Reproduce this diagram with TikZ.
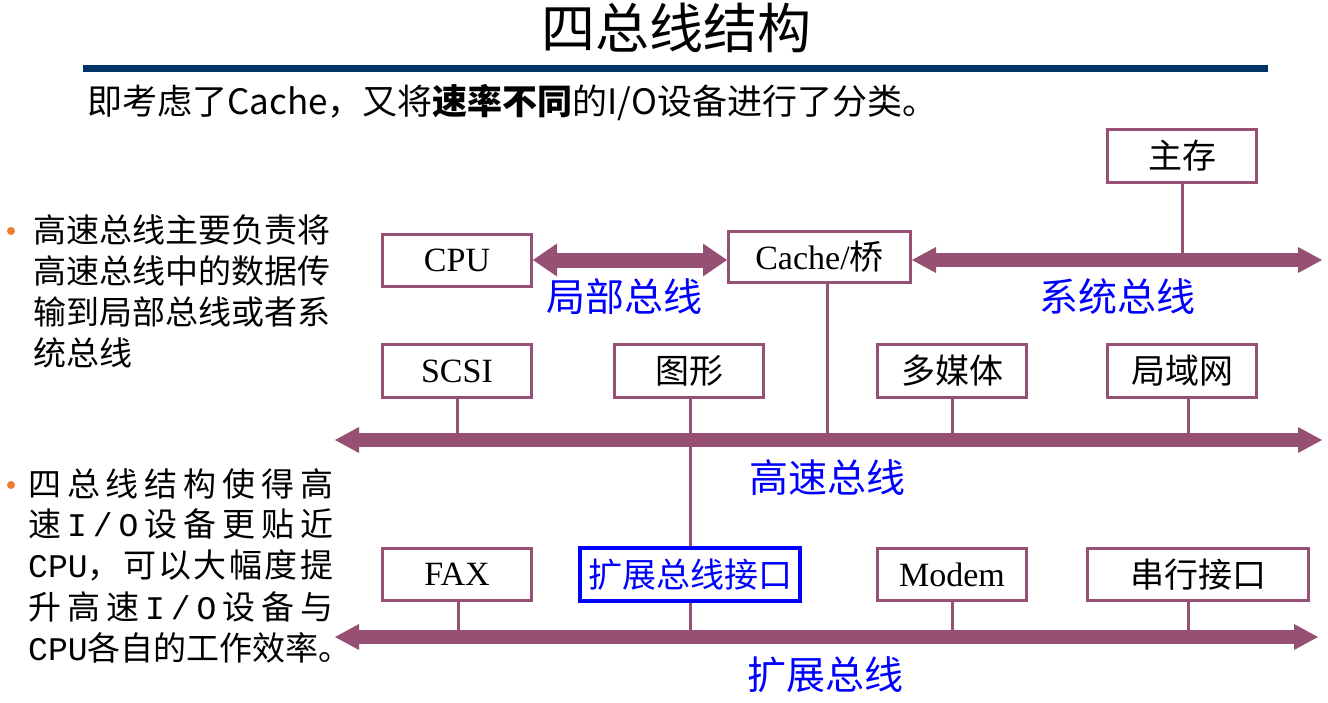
\documentclass[tikz,border=0pt]{standalone}
\usepackage{fontspec}
\setmainfont{Liberation Serif}
\newfontfamily\cjk{Noto Sans CJK SC}
\newfontfamily\mono{Liberation Mono}
\usetikzlibrary{arrows.meta}
\definecolor{busc}{RGB}{150,80,115}
\definecolor{navyc}{RGB}{0,51,102}
\definecolor{bulletc}{RGB}{237,125,49}
\newcommand{\fsz}[1]{\fontsize{#1}{#1}\selectfont}
\tikzset{
 dev/.style={draw=busc, line width=3pt, fill=white, inner sep=0pt, text=black, font=\fsz{34}, minimum width=149pt, minimum height=53pt},
 bus/.style={draw=busc, line width=14pt, {Triangle[width=26pt,length=24pt,line width=0pt]}-{Triangle[width=26pt,length=24pt,line width=0pt]}},
 lbus/.style={draw=busc, line width=15pt, {Triangle[width=33pt,length=24pt,line width=0pt]}-{Triangle[width=33pt,length=24pt,line width=0pt]}},
 tap/.style={draw=busc, line width=3pt},
 buslabel/.style={text=blue, font=\cjk\fsz{39}, inner sep=0pt},
 side/.style={anchor=west, font=\cjk\fsz{33}, inner sep=0pt},
 dot/.style={circle, fill=bulletc, minimum size=8pt, inner sep=0pt},
}
\begin{document}
\begin{tikzpicture}[x=1pt,y=-1pt]
\useasboundingbox (0,0) rectangle (1328,702);
\fill[white] (0,0) rectangle (1328,702);
% title
\node[font=\cjk\fsz{54}, inner sep=0pt] (title) at (676,28) {四总线结构};
\coordinate (ruleL) at (83,68);
\coordinate (ruleR) at (1268,68);
\draw[navyc, line width=7pt] (ruleL) -- (ruleR);
\node[anchor=west, font=\cjk\fsz{35}, inner sep=0pt] (sub) at (87,103) {即考虑了Cache，又将\textbf{速率不同}的I/O设备进行了分类。};
% left text
\node[dot] (b1) at (11,231) {};
\node[side] (t11) at (33,230) {高速总线主要负责将};
\node[side] (t12) at (33,271) {高速总线中的数据传};
\node[side] (t13) at (33,312) {输到局部总线或者系};
\node[side] (t14) at (33,353) {统总线};
\node[dot] (b2) at (11,485) {};
\node[side] (t21) at (28,484) {\hbox to 305pt{四\hfill 总\hfill 线\hfill 结\hfill 构\hfill 使\hfill 得\hfill 高}};
\node[side] (t22) at (28,524) {\hbox to 305pt{速\hfill {\mono I}\hfill {\mono /}\hfill {\mono O}\hfill 设\hfill 备\hfill 更\hfill 贴\hfill 近}};
\node[side] (t23) at (28,565) {\hbox to 305pt{{\mono CPU}，\hfill 可\hfill 以\hfill 大\hfill 幅\hfill 度\hfill 提}};
\node[side] (t24) at (28,607) {\hbox to 305pt{升\hfill 高\hfill 速\hfill {\mono I}\hfill {\mono /}\hfill {\mono O}\hfill 设\hfill 备\hfill 与}};
\node[side] (t25) at (28,648) {{\mono CPU}各自的工作效率。};
% bus end points
\coordinate (sysR) at (1322,260);
\coordinate (hsL) at (335,440);
\coordinate (hsR) at (1322,440);
\coordinate (exL) at (335,637);
\coordinate (exR) at (1318,637);
% devices
\node[dev] (mem) at (1182,156) {\cjk 主存};
\node[dev, minimum height=52pt] (cpu) at (457,260) {CPU};
\node[dev, minimum width=182pt, minimum height=51pt] (cache) at (819.5,257) {Cache/{\cjk 桥}};
\node[dev] (scsi) at (457,371) {SCSI};
\node[dev] (gfx) at (689,371) {\cjk 图形};
\node[dev] (mm) at (952,371) {\cjk 多媒体};
\node[dev] (lan) at (1182,371) {\cjk 局域网};
\node[dev, minimum height=52pt] (fax) at (457,574.5) {FAX};
\node[dev, draw=blue, line width=4pt, minimum width=220pt, text=blue] (ext) at (690,574.5) {\cjk 扩展总线接口};
\node[dev, minimum height=52pt] (modem) at (952,574.5) {Modem};
\node[dev, minimum width=221pt, minimum height=52pt] (ser) at (1198,574.5) {\cjk 串行接口};
% taps
\draw[tap] (mem.south) -- (mem.south |- sysR);
\draw[tap] ([xshift=7.5pt]cache.south) -- ([xshift=7.5pt]cache.south |- hsL);
\draw[tap] (scsi.south) -- (scsi.south |- hsL);
\draw[tap] ([xshift=1pt]gfx.south) -- ([xshift=1pt]gfx.south |- ext.north);
\draw[tap] (mm.south) -- (mm.south |- hsL);
\draw[tap] ([xshift=6pt]lan.south) -- ([xshift=6pt]lan.south |- hsL);
\draw[tap] ([xshift=1pt]fax.south) -- ([xshift=1pt]fax.south |- exL);
\draw[tap] (ext.south) -- (ext.south |- exL);
\draw[tap] (modem.south) -- (modem.south |- exL);
\draw[tap] ([xshift=-10pt]ser.south) -- ([xshift=-10pt]ser.south |- exL);
% buses
\draw[lbus] (cpu.east) -- (cpu.east -| cache.west);
\draw[bus] (sysR -| cache.east) -- (sysR);
\draw[bus] (hsL) -- (hsR);
\draw[bus] (exL) -- (exR);
% bus labels
\node[buslabel] (l1) at (624,297) {局部总线};
\node[buslabel] (l2) at (1117,297) {系统总线};
\node[buslabel] (l3) at (827,478) {高速总线};
\node[buslabel] (l4) at (825,675) {扩展总线};
\end{tikzpicture}
\end{document}
